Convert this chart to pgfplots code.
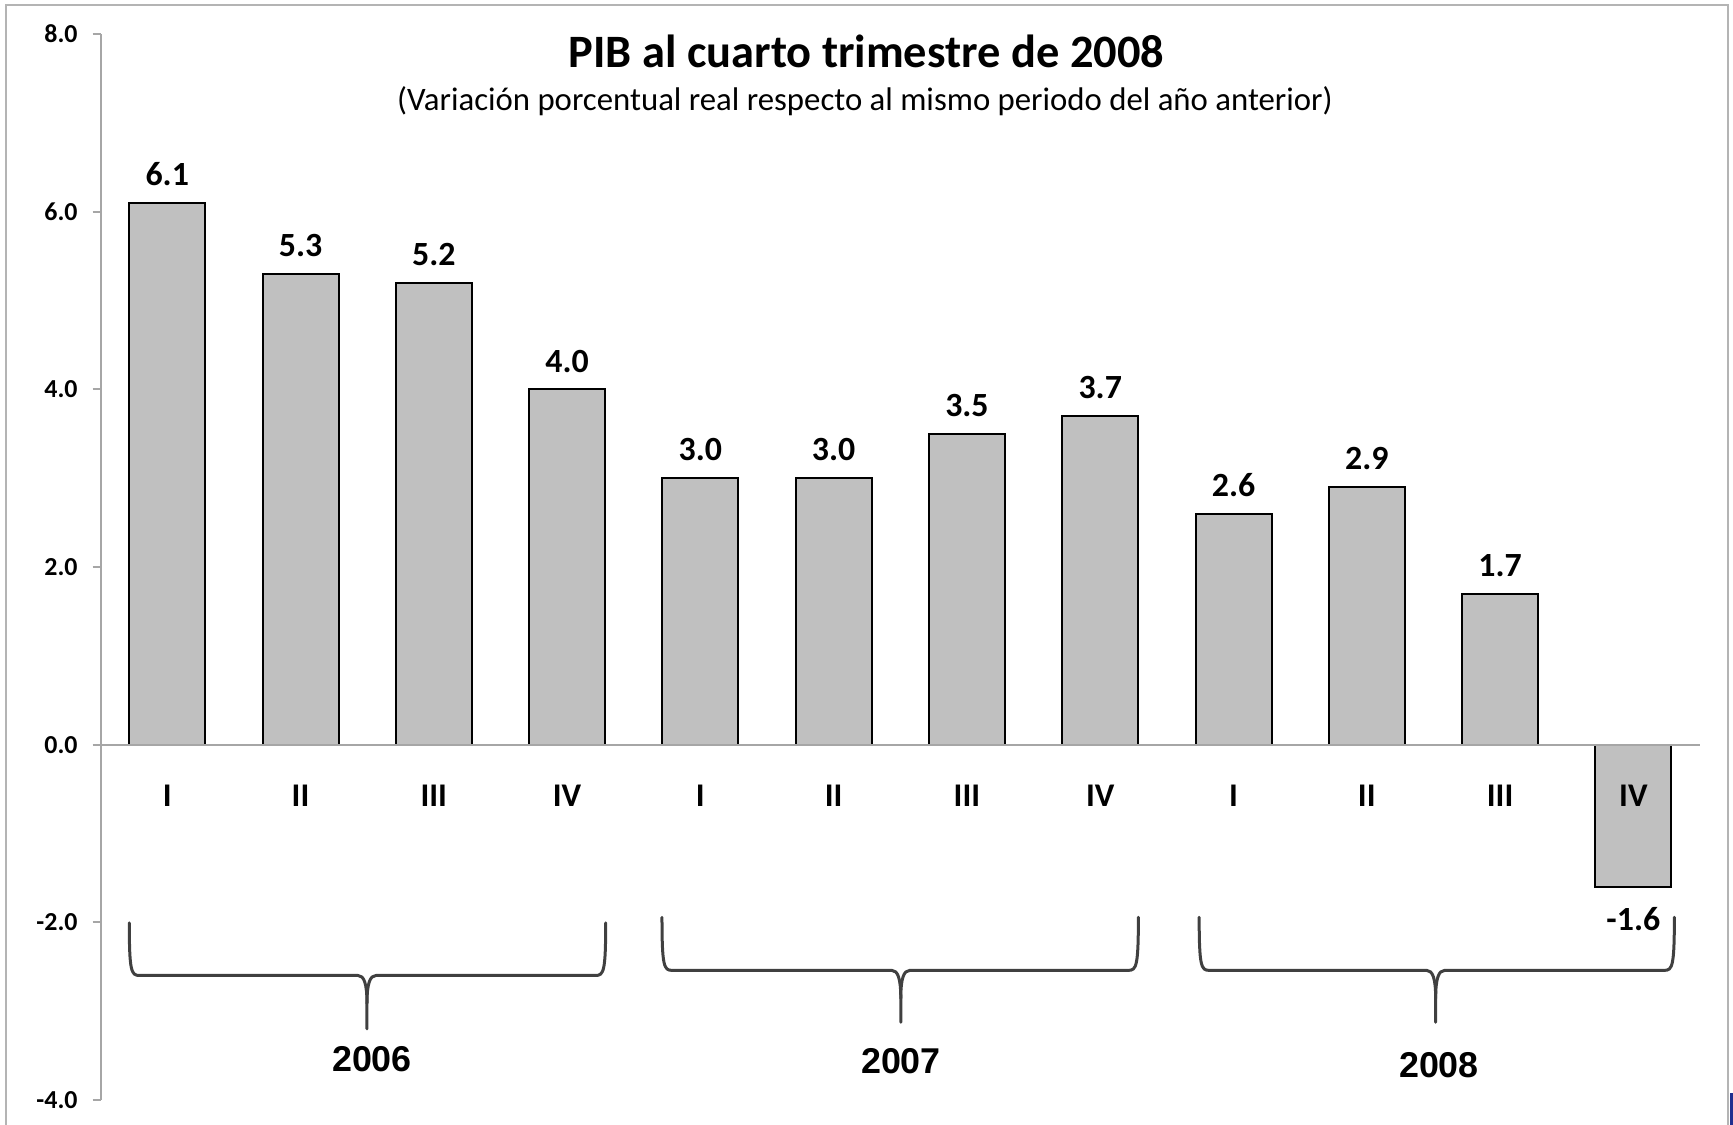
\documentclass[border=0pt]{standalone}
\usepackage{pgfplots}
\pgfplotsset{compat=1.18}
\usepackage{fontspec}
\setmainfont{Carlito}
\newfontfamily\arialfont{Liberation Sans}
\definecolor{bargray}{HTML}{C0C0C0}
\definecolor{axisgray}{HTML}{A6A6A6}
\definecolor{bracegray}{HTML}{404040}
\definecolor{framegray}{HTML}{B4B4B4}
\definecolor{navymark}{HTML}{1F2F8F}
% #1 left, #2 right, #3 tip x, #4 top, #5 horizontal, #6 bottom (pixel units)
\newcommand\yearbrace[6]{%
  \draw[bracegray, line width=1.5bp, line cap=round, line join=round]
    (#1,#4) .. controls (#1,#5-4) and (#1+2,#5) .. (#1+10,#5) -- (#3-9,#5)
    .. controls (#3-3,#5) and (#3,#5+8) .. (#3,#5+28) -- (#3,#6);
  \draw[bracegray, line width=1.5bp, line cap=round, line join=round]
    (#2,#4) .. controls (#2,#5-4) and (#2-2,#5) .. (#2-10,#5) -- (#3+9,#5)
    .. controls (#3+3,#5) and (#3,#5+8) .. (#3,#5+28);
}
\begin{document}
\begin{tikzpicture}
\useasboundingbox (0,0) rectangle (866.5bp,562.5bp);
\begin{axis}[
  axis on top,
  at={(50.3bp,12.5bp)}, anchor=south west,
  scale only axis, width=799.7bp, height=533bp,
  xmin=-0.5, xmax=11.5, ymin=-4, ymax=8,
  axis x line*=middle, axis y line*=left,
  axis line style={axisgray, line width=1bp},
  clip=false,
  xtick={0,...,11},
  xticklabels={I,II,III,IV,I,II,III,IV,I,II,III,IV},
  xtick style={draw=none},
  minor xtick={0.5,1.5,...,11.5},
  minor tick length=5.5bp,
  minor x tick style={axisgray, line width=1bp},
  ytick={-4,-2,...,8},
  ytick style={axisgray, line width=1bp},
  major tick length=4bp,
  tick align=outside,
  hide obscured x ticks=false, hide obscured y ticks=false,
  xticklabel style={font=\fontsize{16.6}{20}\selectfont\bfseries, anchor=base, yshift=-27bp},
  yticklabel style={font=\fontsize{13}{15}\selectfont\bfseries, xshift=-4bp,
    /pgf/number format/.cd, fixed, fixed zerofill, precision=1, assume math mode=true},
]
\addplot[ybar, bar width=0.57, fill=bargray, draw=black, line width=1bp,
  nodes near coords={\pgfmathprintnumber[fixed,fixed zerofill,precision=1,assume math mode=true]{\pgfplotspointmeta}},
  nodes near coords align={vertical},
  every node near coord/.append style={font=\fontsize{17}{20}\selectfont\bfseries, black, inner ysep=9bp, yshift=-1bp}]
  coordinates {(0,6.1) (1,5.3) (2,5.2) (3,4.0) (4,3.0) (5,3.0) (6,3.5) (7,3.7) (8,2.6) (9,2.9) (10,1.7) (11,-1.6)};
\end{axis}
\begin{scope}[x=0.5bp, y=-0.5bp, shift={(0,562.5bp)}]
  \draw[framegray, line width=1bp] (6,1140) -- (6,5) -- (1728,5) -- (1728,1140);
  \fill[navymark] (1730,1093) rectangle (1734,1126);
  \node[font=\fontsize{23.3}{28}\selectfont\bfseries] at (866.5,51) {PIB al cuarto trimestre de 2008};
  \node[font=\fontsize{16.45}{20}\selectfont] at (865,101) {(Variación porcentual real respecto al mismo periodo del año anterior)};
  \yearbrace{129.3}{605.7}{367}{922.9}{975.5}{1029}
  \yearbrace{662}{1138.4}{900.8}{917.3}{970.4}{1022.3}
  \yearbrace{1199.2}{1674.4}{1435.7}{917.3}{970.4}{1022.3}
  \node[font=\arialfont\fontsize{18}{20}\selectfont\bfseries] at (372,1059) {2006};
  \node[font=\arialfont\fontsize{18}{20}\selectfont\bfseries] at (901,1061) {2007};
  \node[font=\arialfont\fontsize{18}{20}\selectfont\bfseries] at (1439,1065) {2008};
\end{scope}
\end{tikzpicture}
\end{document}
